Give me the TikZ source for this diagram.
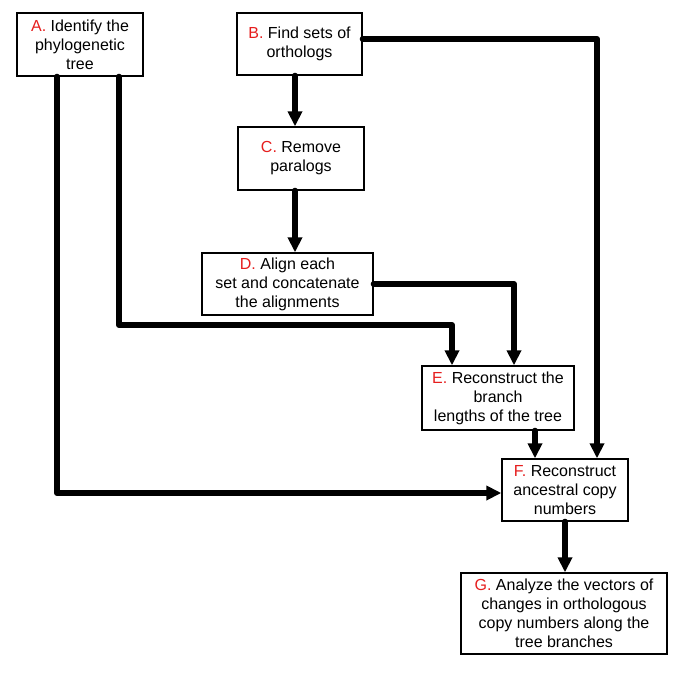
\documentclass[tikz,border=0pt]{standalone}
\usepackage{fontspec}
\setmainfont{Liberation Sans}
\usetikzlibrary{arrows.meta,calc}
\definecolor{lblred}{RGB}{230,30,30}
\tikzset{
  stepbox/.style={draw=black, line width=1.4pt, fill=white, align=center, inner sep=2pt,
    font=\fontsize{16}{19}\selectfont},
  conn/.style={line width=6pt, line cap=round, line join=round, -{Triangle[length=15pt,width=14pt]}},
  plain/.style={line width=6pt, line cap=round, line join=round}
}
\newcommand{\lbl}[1]{\textcolor{lblred}{#1}}
\begin{document}
\begin{tikzpicture}[x=1pt,y=-1pt]
\useasboundingbox (0,0) rectangle (685,673);
\node[stepbox, minimum width=126pt, minimum height=63pt] (A) at (80,44.5) {\lbl{A.} Identify the\\phylogenetic\\tree};
\node[stepbox, minimum width=125pt, minimum height=62pt] (B) at (299.5,44) {\lbl{B.} Find sets of\\orthologs};
\node[stepbox, minimum width=126pt, minimum height=63pt] (C) at (301,158.5) {\lbl{C.} Remove\\paralogs};
\node[stepbox, minimum width=171pt, minimum height=62pt] (D) at (287.5,284) {\lbl{D.} Align each\\set and concatenate\\the alignments};
\node[stepbox, minimum width=152pt, minimum height=64pt] (E) at (498,398) {\lbl{E.} Reconstruct the\\branch\\lengths of the tree};
\node[stepbox, minimum width=126pt, minimum height=62pt] (F) at (565,490) {\lbl{F.} Reconstruct\\ancestral copy\\numbers};
\node[stepbox, minimum width=206pt, minimum height=81pt] (G) at (564,613.5) {\lbl{G.} Analyze the vectors of\\changes in orthologous\\copy numbers along the\\tree branches};
\coordinate (k1) at (452,325);
% connectors
\draw[conn] ([xshift=-23pt]A.south) |- ([yshift=-3pt]F.west);
\draw[conn] ([xshift=39pt]A.south) |- (k1) -- ([xshift=-46pt]E.north);
\draw[conn] ([yshift=5pt]B.east) -| ([xshift=32pt]F.north);
\draw[conn] ([xshift=-4.5pt]B.south) -- ([xshift=-4.5pt]B.south |- C.north);
\draw[conn] ([xshift=-6pt]C.south) -- ([xshift=-6pt]C.south |- D.north);
\draw[conn] (D.east) -| ([xshift=16pt]E.north);
\draw[conn] ([xshift=37pt]E.south) -- ([xshift=37pt]E.south |- F.north);
\draw[conn] (F.south) -- (F.south |- G.north);
\end{tikzpicture}
\end{document}
